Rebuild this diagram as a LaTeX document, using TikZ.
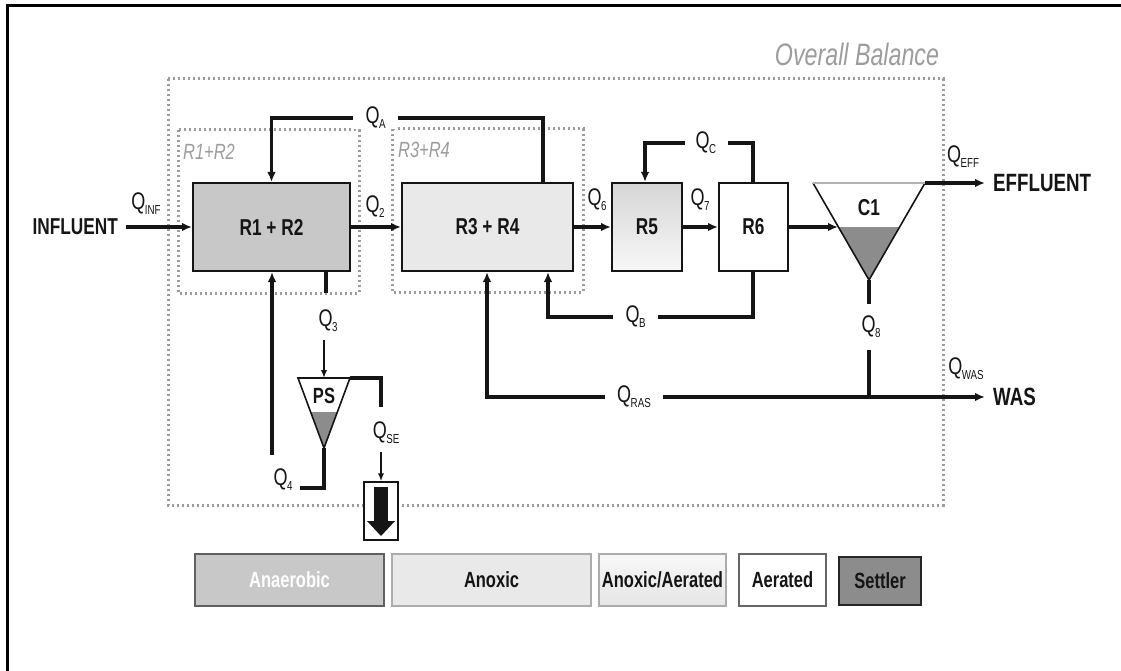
\documentclass[tikz,border=0pt]{standalone}
\usepackage{fontspec}
\setmainfont{Liberation Sans}[FakeStretch=0.75]
\usetikzlibrary{arrows.meta,calc}
\definecolor{anaer}{HTML}{C8C8C8}
\definecolor{anox}{HTML}{E9E9E9}
\definecolor{settl}{HTML}{8C8C8C}
\definecolor{dotc}{HTML}{9C9C9C}
\definecolor{ink}{HTML}{151515}
\newcommand\QL[1]{Q\kern-0.5pt\raisebox{-5pt}{\fontsize{13}{13}\selectfont #1}}
\begin{document}
\begin{tikzpicture}[x=1pt,y=-1pt,
  flow/.style={line width=3.2pt,draw=ink},
  tip/.style={-{Latex[length=10pt,width=8.5pt]}},
  thinarrow/.style={line width=2pt,draw=ink,-{Latex[length=8pt,width=6.5pt]}},
  reactor/.style={draw=ink,line width=2pt,inner sep=0pt,minimum height=88pt,
    font=\fontsize{23}{23}\selectfont\bfseries,text=ink},
  zone/.style={draw=dotc,line width=3pt,dash pattern=on 2.4pt off 2.6pt},
  zonelab/.style={font=\fontsize{22}{22}\selectfont\itshape,text=dotc,inner sep=0pt},
  qlab/.style={font=\fontsize{24}{24}\selectfont,text=ink,inner sep=0pt},
  gap/.style={qlab,fill=white},
  bigtxt/.style={font=\fontsize{24}{24}\selectfont\bfseries,text=ink,inner sep=0pt},
  legend/.style={draw,line width=2pt,inner sep=0pt,minimum height=52pt,
    font=\fontsize{22}{22}\selectfont\bfseries,text=ink},
  ]
\useasboundingbox (0,0) rectangle (1121,671);
% frame
\draw[line width=3pt,black] (1121,6) -- (7,6) -- (7,671);

% zones
\draw[zone] (168,79) rectangle (943,505);
\draw[zone] (178,130) rectangle (359,293);
\draw[zone] (392,129) rectangle (583,292);
\node[zonelab,font=\fontsize{31}{31}\selectfont\itshape] (ob) at (857,54) {Overall Balance};
\node[zonelab] (z12) at (209,152) {R1+R2};
\node[zonelab] (z34) at (424,150) {R3+R4};

% reactors
\node[reactor,fill=anaer,minimum width=157pt] (r12) at (271.5,227) {R1 + R2};
\node[reactor,fill=anox,minimum width=171pt] (r34) at (487.5,227) {R3 + R4};
\node[reactor,top color=gray!32,bottom color=gray!6,minimum width=70pt] (r5) at (647,227) {R5};
\node[reactor,fill=white,minimum width=69pt] (r6) at (753.5,227) {R6};

% clarifier C1
\coordinate (c1tl) at (813,183);
\coordinate (c1tr) at (925,183);
\coordinate (c1apex) at (869,280);
\coordinate (c1gl) at (838.4,227);
\coordinate (c1gr) at (899.6,227);
\fill[settl] (c1gl) -- (c1gr) -- (c1apex) -- cycle;
\draw[line width=1.6pt,draw=ink,line join=miter] (c1tl) -- (c1apex) -- (c1tr);
\draw[line width=1.6pt,draw=gray!60] (c1tl) -- (c1tr);
\node[reactor,draw=none,minimum height=0pt] (c1) at (869,208) {C1};

% primary settler PS
\coordinate (pstl) at (298,378);
\coordinate (pstr) at (350,378);
\coordinate (psapex) at (324,448);
\coordinate (psgl) at (310.6,412);
\coordinate (psgr) at (337.4,412);
\fill[settl] (psgl) -- (psgr) -- (psapex) -- cycle;
\draw[line width=1.6pt,draw=ink,line join=miter] (pstr) -- (pstl) -- (psapex) -- cycle;
\node[reactor,draw=none,minimum height=0pt,font=\fontsize{22}{22}\selectfont\bfseries] (ps) at (324,396) {PS};

% influent / effluent / was
\node[bigtxt,font=\fontsize{23}{23}\selectfont\bfseries,anchor=east] (inf) at (118,227) {INFLUENT};
\node[bigtxt,font=\fontsize{25}{25}\selectfont\bfseries,anchor=west] (eff) at (993,183) {EFFLUENT};
\node[bigtxt,font=\fontsize{25}{25}\selectfont\bfseries,anchor=west] (was) at (993,397) {WAS};

% main flow
\draw[flow,tip] ([xshift=8pt]inf.east) -- (r12.west);
\node[qlab] (qinf) at (146,204) {\QL{INF}};
\draw[flow,tip] (r12) -- (r34);
\node[qlab] (q2) at (375,207) {\QL{2}};
\draw[flow,tip] (r34) -- (r5);
\node[qlab] (q6) at (597,200) {\QL{6}};
\draw[flow,tip] (r5) -- (r6);
\node[qlab] (q7) at (700,200) {\QL{7}};
\coordinate (c1in) at (838,227);
\draw[flow,tip] (r6.east) -- (c1in);
\draw[flow,tip] (c1tr) -- ([xshift=-8pt]eff.west |- c1tr);
\node[qlab] (qeff) at (963,157) {\QL{EFF}};

% internal recycle A
\coordinate (qa) at (543,118);
\draw[flow,tip] (r34.north -| qa) -- (qa) -| (r12.north);
\node[gap,minimum width=45pt,minimum height=22pt] (qal) at (375.5,118) {\QL{A}};

% recycle C
\coordinate (qc) at (753,143);
\draw[flow,tip] (r6.north -| qc) -- (qc) -| ([xshift=-2pt]r5.north);
\node[gap,minimum width=43pt,minimum height=22pt] (qcl) at (706,143) {\QL{C}};

% recycle B
\coordinate (qb) at (753,317);
\coordinate (qbx) at (548,317);
\draw[flow,tip] (r6.south -| qb) -- (qb) -- (qbx) -- (r34.south -| qbx);
\node[gap,minimum width=45pt,minimum height=22pt] (qbl) at (635.5,317) {\QL{B}};

% underflow / RAS / WAS
\coordinate (j) at (869,397);
\coordinate (rasx) at (487,397);
\draw[flow] (c1apex) -- (j);
\node[gap,minimum width=28pt,minimum height=46pt] (q8) at (871,327) {\QL{8}};
\draw[flow,tip] (j) -- (rasx) -- (r34.south -| rasx);
\draw[flow,tip] (j) -- ([xshift=-8pt]was.west |- j);
\node[gap,minimum width=58pt,minimum height=22pt] (qras) at (634,397) {\QL{RAS}};
\node[qlab] (qwas) at (966,369) {\QL{WAS}};

% to primary settler
\coordinate (q3a) at (326,293);
\draw[flow] (r12.south -| q3a) -- (q3a);
\node[qlab] (q3) at (328,321) {\QL{3}};
\coordinate (q3b) at (324,340);
\draw[thinarrow] (q3b) -- (pstl -| q3b);

% primary sludge return Q4
\coordinate (q4a) at (324,488);
\coordinate (q4b) at (300,488);
\draw[flow] (psapex) -- (q4a) -- (q4b);
\node[qlab] (q4) at (283,480) {\QL{4}};
\coordinate (q4c) at (272,455);
\draw[flow,tip] (q4c) -- (r12.south -| q4c);

% primary effluent out
\coordinate (sea) at (381,378);
\coordinate (seb) at (381,407);
\draw[flow] (pstr) -- (sea) -- (seb);
\node[qlab] (qse) at (386,433) {\QL{SE}};
\node[draw=ink,line width=1.5pt,fill=white,minimum width=34pt,minimum height=58pt,inner sep=0pt] (sebox) at (381,511) {};
\coordinate (sec) at (381,452);
\draw[thinarrow] (sec) -- (sebox.north);
\fill[ink] (374,487) rectangle (388,522);
\fill[ink] (367,521) -- (395,521) -- (381,536) -- cycle;

% legend
\node[legend,draw=gray!75!black,fill=anaer,text=white,minimum width=189pt] (lg1) at (289.5,580) {Anaerobic};
\node[legend,draw=gray!65,fill=anox,minimum width=199pt] (lg2) at (491.5,580) {Anoxic};
\node[legend,draw=gray!65,top color=gray!6,bottom color=gray!20,minimum width=127pt] (lg3) at (662.5,580) {Anoxic/Aerated};
\node[legend,draw=gray!80!black,fill=white,minimum width=87pt] (lg4) at (782.5,580) {Aerated};
\node[legend,draw=gray!30!black,fill=settl,minimum width=82pt,minimum height=48pt] (lg5) at (880,581) {Settler};
\end{tikzpicture}
\end{document}
